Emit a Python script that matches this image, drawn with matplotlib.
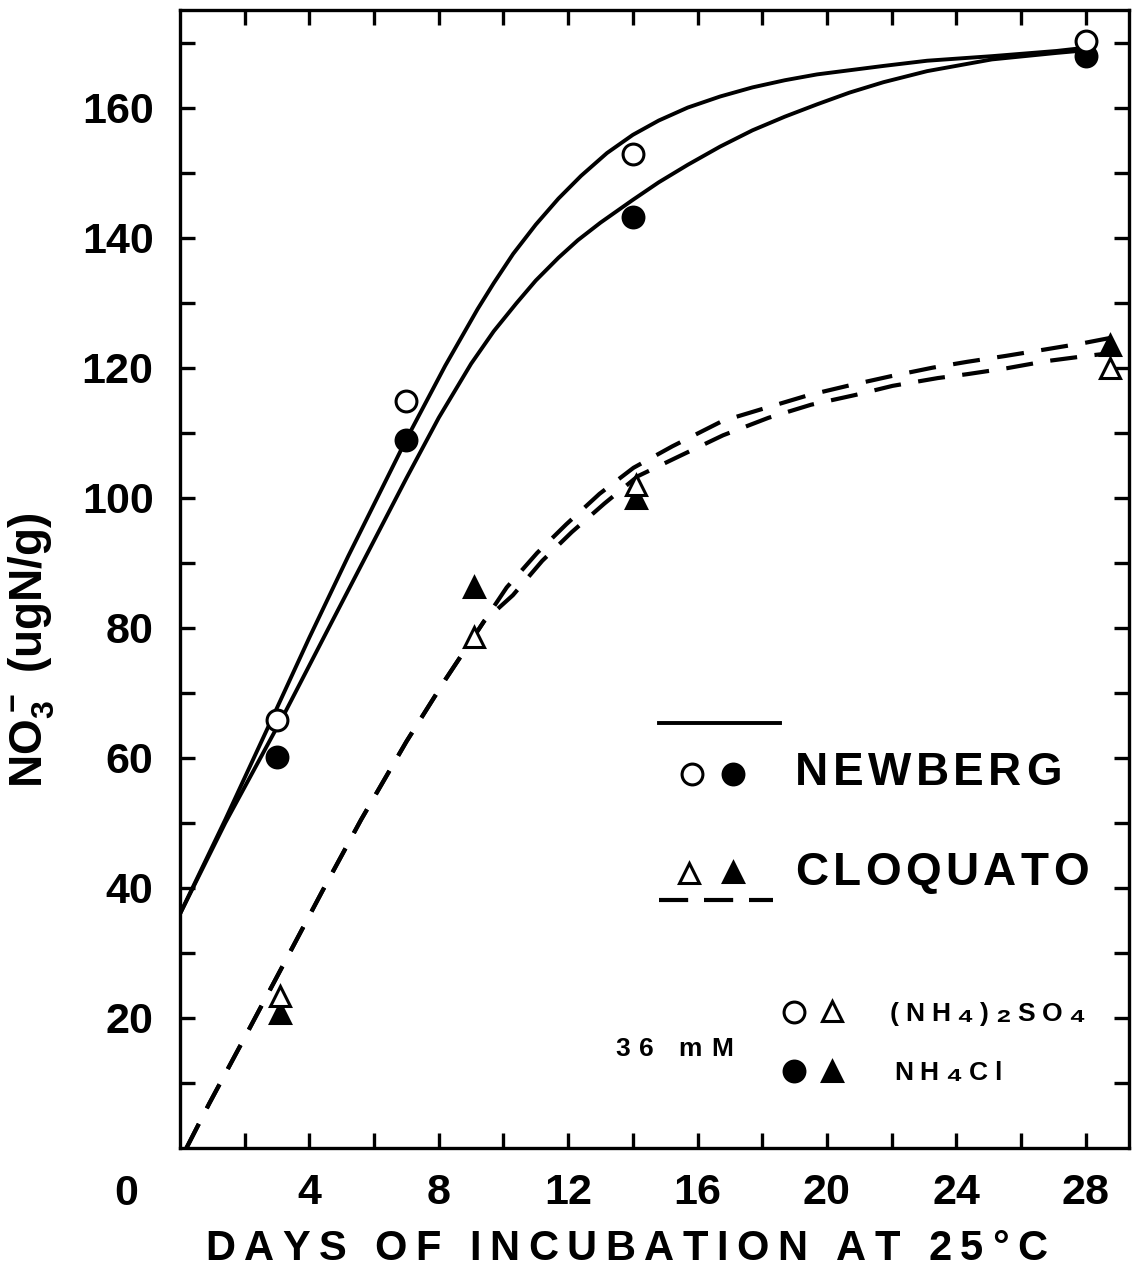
import matplotlib
matplotlib.use('Agg')
import matplotlib.pyplot as plt
from matplotlib.transforms import Affine2D
from matplotlib.font_manager import FontProperties, findfont, get_font

W, H, DPI = 1147, 1269, 100
FAMILY = ['Liberation Sans', 'DejaVu Sans']
plt.rcParams['font.family'] = FAMILY
plt.rcParams['font.weight'] = 'bold'
plt.rcParams['mathtext.default'] = 'regular'

# ---------------- measured points: NO3- (ugN/g) vs days at 25 C ----------------
nb_days = [3, 7, 14, 28]
nb_sulfate = [65.8, 114.8, 152.8, 170.2]    # Newberg + (NH4)2SO4
nb_chloride = [60.2, 108.9, 143.1, 168.0]   # Newberg + NH4Cl

cq_days = [3.1, 9.1, 14.1, 28.75]
cq_sulfate = [23.3, 78.6, 102.0, 120.0]     # Cloquato + (NH4)2SO4
cq_chloride = [20.8, 86.2, 100.0, 123.5]    # Cloquato + NH4Cl

# ---------------- hand drawn curves ----------------
nb_fit_a_x = [0, 1.4, 2.75, 4.0, 5.2, 7.0, 8.2, 9.2, 9.7, 10.3, 11.0, 11.7,
              12.4, 13.2, 14.0, 14.8, 15.7, 16.7, 17.7, 18.7, 19.7, 21.75,
              23.1, 25.1, 27.1, 28.0]
nb_fit_a_y = [36, 50.5, 65, 78.5, 91, 109, 120.3, 129, 133, 137.5, 142,
              146, 149.5, 153, 155.8, 158, 160, 161.7, 163.1, 164.2, 165.1,
              166.4, 167.2, 167.9, 168.7, 169.2]
nb_fit_b_x = [0, 1.4, 3.25, 4.6, 5.8, 7.0, 8.0, 9.0, 9.7, 10.4, 11.0, 11.7,
              12.3, 13.0, 14.0, 14.8, 15.7, 16.7, 17.7, 18.7, 19.7, 20.7,
              21.75, 23.1, 25.1, 27.1, 28.0]
nb_fit_b_y = [36, 50, 67, 80, 91.5, 103, 112.3, 120.6, 125.6, 129.9, 133.4,
              136.9, 139.6, 142.3, 145.8, 148.5, 151.2, 154, 156.5, 158.6,
              160.5, 162.3, 163.9, 165.6, 167.4, 168.4, 168.8]

# Cloquato: one dashed line up to ~day 9, then two
cq_fit_x0 = [0.2, 0.9, 2.0, 3.25, 4.4, 5.6, 7.0, 8.2, 9.4]
cq_fit_y0 = [0, 6.8, 17, 28.7, 39.5, 50.5, 62.5, 72, 81]
cq_fit_a_x = [10.1, 11.04, 11.94, 12.97, 14.02, 15.22, 16.77, 18.17, 19.45,
              20.72, 21.99, 23.27, 24.34, 25.52, 26.75, 27.96, 29.1]
cq_fit_a_y = [86.2, 91.5, 95.9, 100.6, 104.6, 107.9, 111.8, 113.9, 115.8,
              117.3, 118.7, 120.0, 120.9, 121.8, 122.8, 123.8, 124.9]
cq_fit_b_x = [10.29, 11.2, 12.11, 13.12, 14.15, 15.36, 16.79, 18.2, 19.51,
              20.88, 22.03, 23.43, 24.34, 25.55, 26.78, 28.02, 28.9]
cq_fit_b_y = [85.0, 90.3, 94.7, 99.1, 103.3, 106.2, 109.6, 112.3, 114.3,
              115.8, 117.2, 118.4, 119.0, 119.9, 121.0, 121.8, 122.3]

x_ticks = list(range(2, 29, 2))
x_labels = [str(d) if d % 4 == 0 else '' for d in x_ticks]
y_ticks = list(range(10, 171, 10))
y_labels = [str(v) if v % 20 == 0 and v <= 160 else '' for v in y_ticks]

fig = plt.figure(figsize=(W / DPI, H / DPI), dpi=DPI)
ax = fig.add_axes([180 / W, 1 - 1148 / H, 949 / W, 1138 / H])
# pixel coords measured from the top-left corner of the figure
to_img = Affine2D().scale(1 / W, -1 / H).translate(0, 1) + fig.transFigure

LW = 2.8
DASH = (6.5, 4.2)

ax.plot(nb_fit_a_x, nb_fit_a_y, color='black', lw=LW, solid_capstyle='round',
        solid_joinstyle='round')
ax.plot(nb_fit_b_x, nb_fit_b_y, color='black', lw=LW, solid_capstyle='round',
        solid_joinstyle='round')
ax.plot(cq_fit_x0 + cq_fit_a_x, cq_fit_y0 + cq_fit_a_y, color='black', lw=3.0,
        dashes=DASH, dash_capstyle='butt')
ax.plot(cq_fit_x0 + cq_fit_b_x, cq_fit_y0 + cq_fit_b_y, color='black', lw=3.0,
        dashes=DASH, dash_capstyle='butt')

mk = dict(ls='none', ms=15, mew=2.2, mec='black', zorder=5, clip_on=False)
ax.plot(nb_days, nb_chloride, marker='o', mfc='black', **mk)
ax.plot(nb_days, nb_sulfate, marker='o', mfc='white', **mk)
ax.plot(cq_days, cq_chloride, marker='^', mfc='black', **mk)
ax.plot(cq_days, cq_sulfate, marker='^', mfc='white', **mk)

ax.set_xlim(0, 29.34)
ax.set_ylim(0, 175)
ax.set_xticks(x_ticks)
ax.set_xticklabels(x_labels)
ax.set_yticks(y_ticks)
ax.set_yticklabels(y_labels)
ax.tick_params(direction='in', length=11, width=2.4, top=True, right=True,
               labelsize=31)
ax.tick_params(axis='y', pad=19)
ax.tick_params(axis='x', pad=18)
for s in ax.spines.values():
    s.set_linewidth(2.4)

SUBSCRIPTS = set('\u2080\u2081\u2082\u2083\u2084\u2085\u2086\u2087\u2088\u2089')


def advance(ch, size):
    for fam in FAMILY:
        font = get_font(findfont(FontProperties(family=fam, weight='bold')))
        if font.get_char_index(ord(ch)):
            font.set_size(size, DPI)
            return font.load_char(ord(ch)).linearHoriAdvance / 65536
    return 0


def spaced_text(x, y, s, size, track):
    # left edge x, baseline y, in figure pixels; extra gap between letters
    for ch in s:
        sz = size * 1.35 if ch in SUBSCRIPTS else size
        fig.text(x, y, ch, transform=to_img, fontsize=sz, ha='left',
                 va='baseline')
        x += advance(ch, sz) + track


# shared origin label and axis titles
fig.text(126, 1205, '0', transform=to_img, fontsize=31, ha='center',
         va='baseline')
spaced_text(205, 1260, 'DAYS OF INCUBATION AT 25\u00b0C', 30, 8.5)
fig.text(32, 650, r'NO$_3^-$ (ugN/g)', transform=to_img, fontsize=33,
         rotation=90, ha='center', va='center')

# key
ax.plot([659, 780], [723, 723], color='black', lw=LW, transform=to_img,
        clip_on=False)
ax.plot([659, 773], [900, 900], color='black', lw=3.0, dashes=(7, 3.8),
        transform=to_img, clip_on=False)
key = dict(ls='none', ms=15, mew=2.2, mec='black', transform=to_img,
           clip_on=False)
ax.plot([692], [774], marker='o', mfc='white', **key)
ax.plot([733], [774], marker='o', mfc='black', **key)
ax.plot([689], [873], marker='^', mfc='white', **key)
ax.plot([733], [872], marker='^', mfc='black', **key)
spaced_text(795, 785, 'NEWBERG', 33, 4.5)
spaced_text(795, 885, 'CLOQUATO', 33, 4.5)

ax.plot([794], [1012], marker='o', mfc='white', **key)
ax.plot([832], [1011], marker='^', mfc='white', **key)
ax.plot([794], [1071], marker='o', mfc='black', **key)
ax.plot([832], [1071], marker='^', mfc='black', **key)
spaced_text(890, 1021, '(NH\u2084)\u2082SO\u2084', 19, 6.5)
spaced_text(894, 1080, 'NH\u2084Cl', 19, 6.5)
spaced_text(615, 1056, '36 mM', 19, 9)

fig.savefig('out.png', dpi=DPI)
